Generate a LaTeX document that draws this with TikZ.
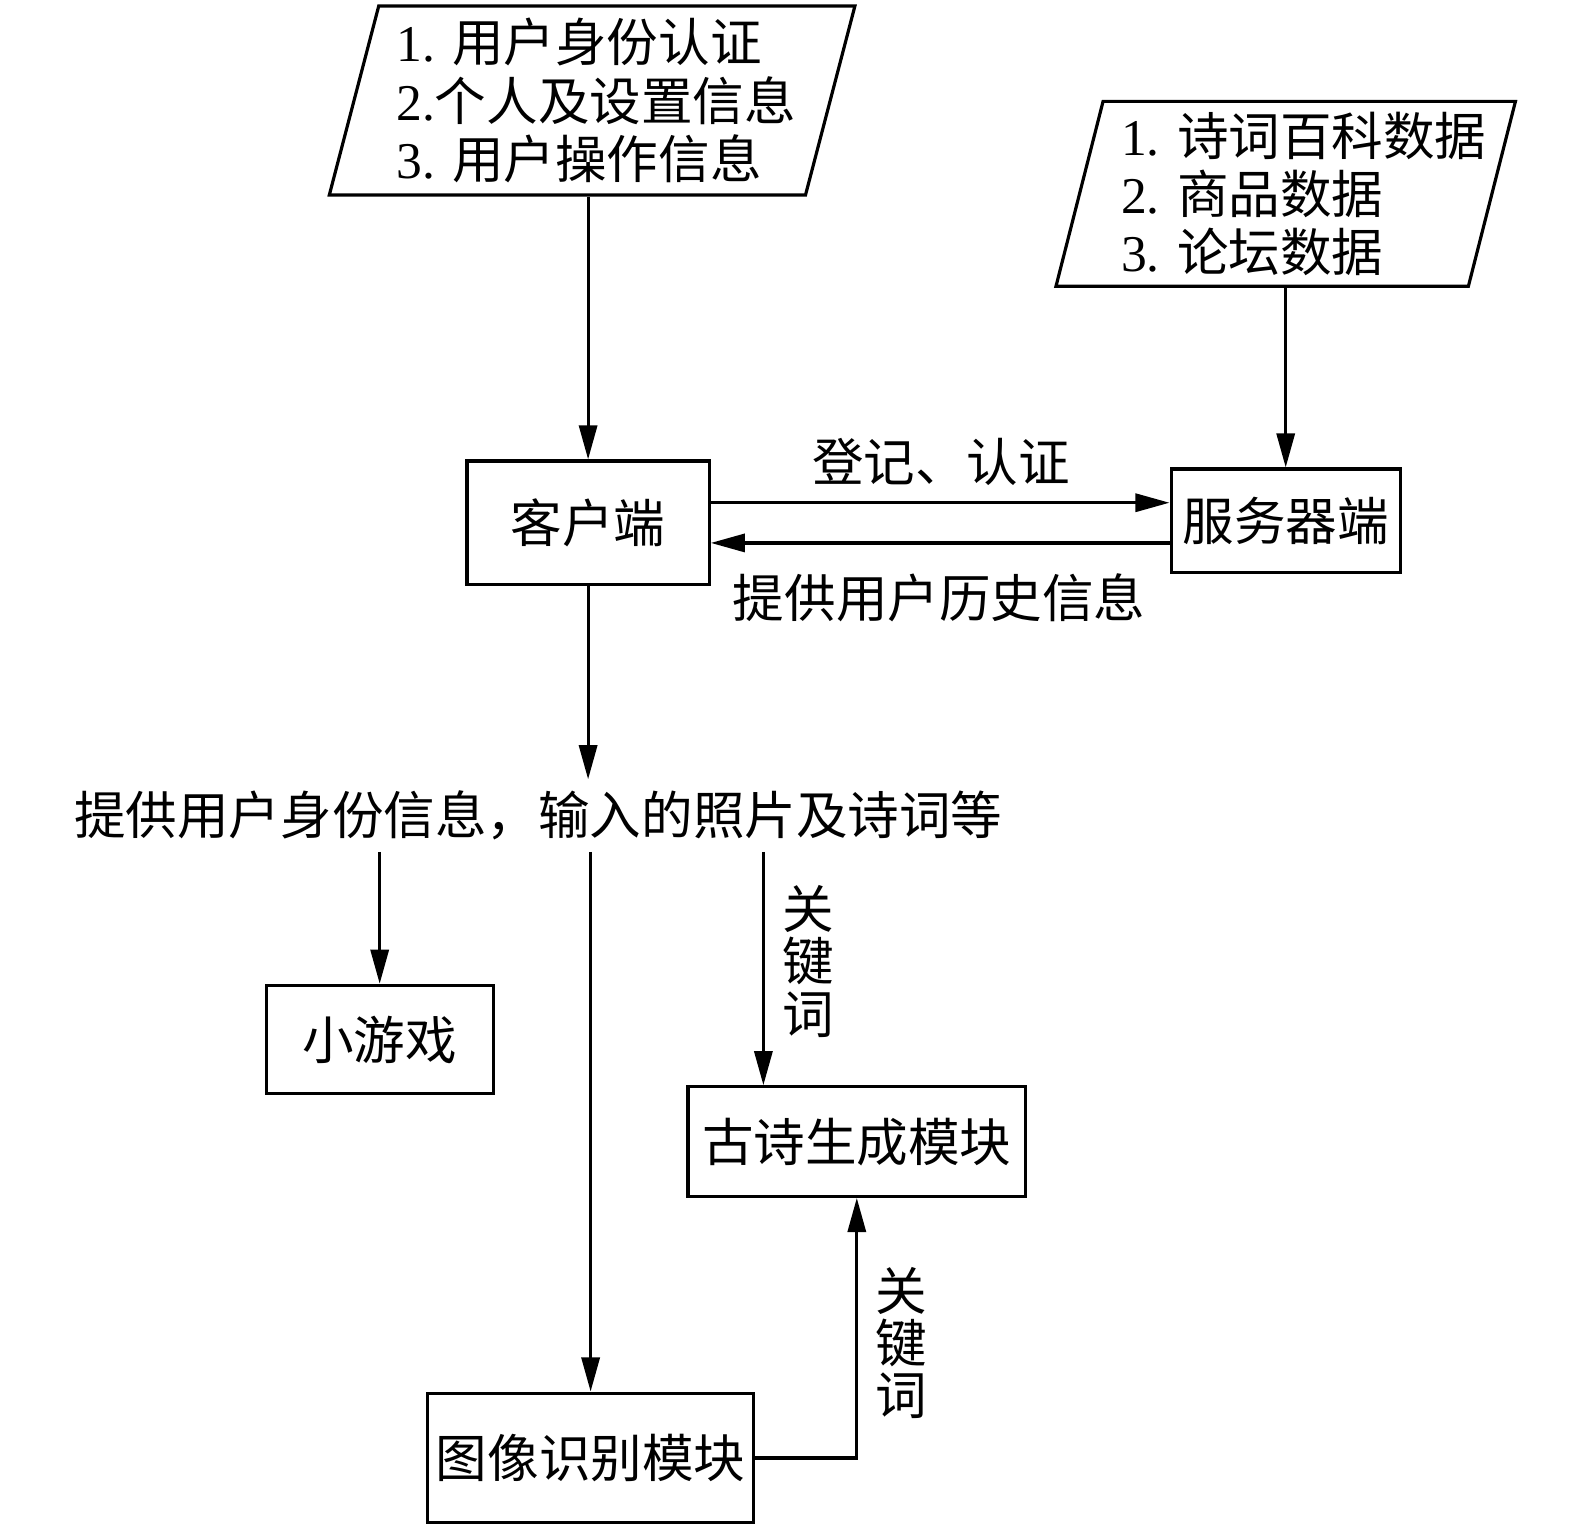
\documentclass[tikz,border=0pt]{standalone}
\usepackage{fontspec}
\setmainfont{Liberation Serif}
\newfontfamily\cjk{Noto Sans CJK SC}
\usetikzlibrary{shapes.geometric,arrows.meta}
\newcommand{\numpart}[1]{{\rmfamily #1}}
\newcommand{\shiftline}[2]{\hspace*{#1}#2\hspace*{-#1}}

\begin{document}
\begin{tikzpicture}[x=0.01cm, y=0.01cm, line width=0.9pt,
  font=\cjk\fontsize{14.6}{16.5}\selectfont,
  box/.style={draw, rectangle, inner sep=0pt},
  datain/.style={draw, trapezium, trapezium left angle=74,
    trapezium right angle=106, trapezium stretches=true,
    align=left, inner sep=0pt},
  flow/.style={-{Triangle[length=0.34cm,width=0.18cm]}},
  stacked/.style={align=center, inner sep=0pt,
    font=\cjk\fontsize{14.6}{14.8}\selectfont}]
  \useasboundingbox (0,0) rectangle (1568,-1523);

  \node[datain, minimum width=5.23cm, minimum height=1.88cm]
        (userdata) at ( 589.5, -100) {\shiftline{0.08cm}{\numpart{1. }用户身份认证}\\
                                      \shiftline{0.08cm}{\numpart{2.}个人及设置信息}\\
                                      \shiftline{0.08cm}{\numpart{3. }用户操作信息}};
  \node[datain, minimum width=4.56cm, minimum height=1.84cm]
        (serverdata) at (1280, -193) {\shiftline{0.18cm}{\numpart{1. }诗词百科数据}\\
                                      \shiftline{0.18cm}{\numpart{2. }商品数据}\\
                                      \shiftline{0.18cm}{\numpart{3. }论坛数据}};

  \node[box, minimum width=2.41cm, minimum height=1.23cm]
        (client) at ( 585.5, -520.5) {客户端};
  \node[box, minimum width=2.28cm, minimum height=1.03cm]
        (server) at (1280, -518.5) {服务器端};
  \node[box, minimum width=2.26cm, minimum height=1.08cm]
        (game)   at ( 378, -1035) {小游戏};
  \node[box, minimum width=3.36cm, minimum height=1.09cm]
        (poem)   at ( 853, -1136.5) {古诗生成模块};
  \node[box, minimum width=3.24cm, minimum height=1.29cm]
        (imgrec) at ( 588, -1451.5) {图像识别模块};

  \node (regtext)  at ( 937, -460) {登记、认证};
  \node (histtext) at ( 935, -595) {提供用户历史信息};
  \node[inner sep=0.1cm] (sendinfo) at ( 536, -812)
        {提供用户身份信息，输入的照片及诗词等};
  \node[stacked] (keyword1) at ( 805, -957)  {关\\键\\词};
  \node[stacked] (keyword2) at ( 897, -1337) {关\\键\\词};
  \coordinate (keyline) at ( 760, -850);

  \draw[flow]    (userdata.south -| client.north)
              -- (client.north);
  \draw[flow]    (serverdata.south -| server.north)
              -- (server.north);

  \draw[flow]    ([yshift=0.2cm]client.east)
              -- ([yshift=0.2cm]client.east -| server.west);
  \draw[flow]    ([yshift=-0.2cm]client.east -| server.west)
              -- ([yshift=-0.2cm]client.east);

  \draw[flow]    (client.south)
              -- (client.south |- sendinfo.north);

  \draw[flow]    (sendinfo.south -| game.north)
              -- (game.north);
  \draw[flow]    (sendinfo.south -| imgrec.north)
              -- (imgrec.north);
  \draw[flow]    (sendinfo.south -| keyline)
              -- (poem.north -| keyline);

  \draw[flow]    (imgrec.east)
              -| (poem.south);

\end{tikzpicture}
\end{document}
